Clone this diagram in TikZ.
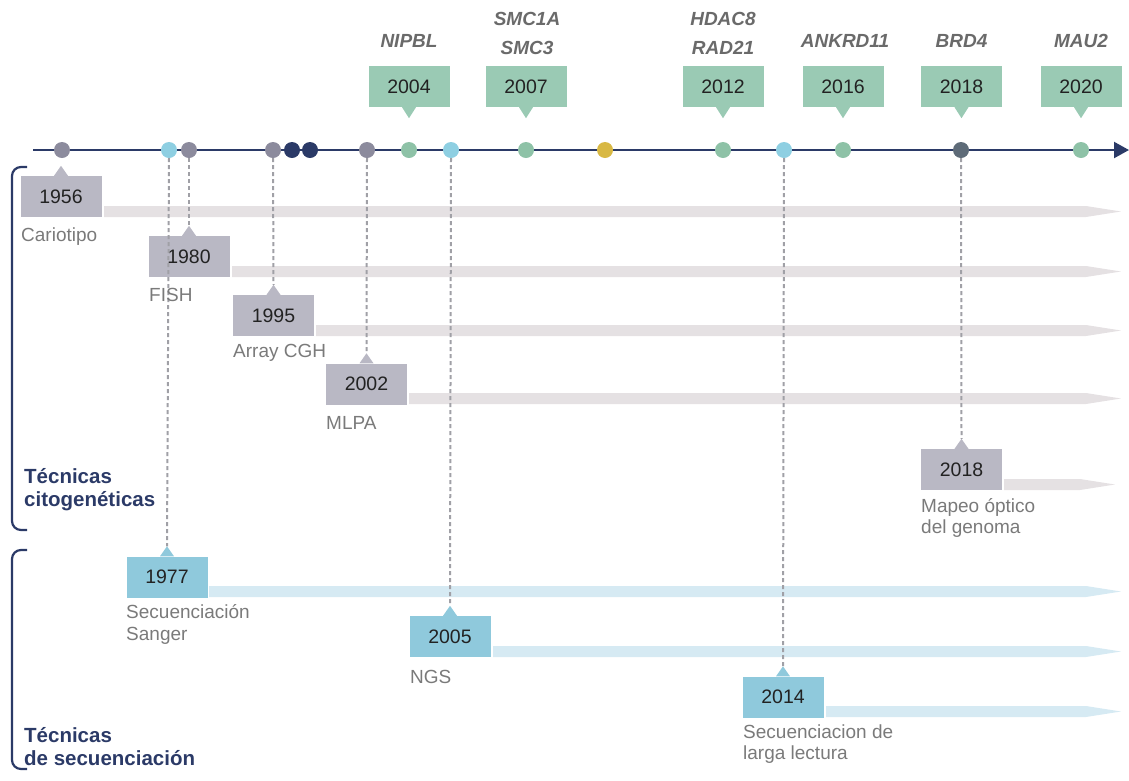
\documentclass[tikz,border=0pt]{standalone}
\usepackage{fontspec}
\setmainfont{Liberation Sans}
\usetikzlibrary{calc,arrows.meta}
\definecolor{navy}{HTML}{2B3A67}
\definecolor{gbox}{HTML}{B9B8C4}
\definecolor{gbar}{HTML}{E5E1E3}
\definecolor{bbox}{HTML}{8FC9DC}
\definecolor{bbar}{HTML}{D6EAF3}
\definecolor{grbox}{HTML}{9ACAB4}
\definecolor{grdot}{HTML}{8EC2A7}
\definecolor{bdot}{HTML}{8ECFE2}
\definecolor{gdot}{HTML}{8C8B9D}
\definecolor{ydot}{HTML}{D8B844}
\definecolor{ddot}{HTML}{5E6B78}
\definecolor{labelgray}{HTML}{7A7A7A}
\definecolor{genegray}{HTML}{6A6A6A}
\definecolor{dashgray}{HTML}{A0A0A6}
\definecolor{yeartext}{HTML}{222222}
\newcommand\upptr[2]{\fill[#2] ($(#1.north)+(-7,0)$) -- ($(#1.north)+(0,-10)$) -- ($(#1.north)+(7,0)$) -- cycle;}
\newcommand\downptr[2]{\fill[#2] ($(#1.south)+(-7,0)$) -- ($(#1.south)+(0,11)$) -- ($(#1.south)+(7,0)$) -- cycle;}
\newcommand\tlbar[5]{\fill[#5] (#1,#2) -- (#3-35,#2) -- (#3,#2/2+#4/2) -- (#3-35,#4) -- (#1,#4) -- cycle;}
\begin{document}
\begin{tikzpicture}[x=1pt,y=-1pt,
  yearbox/.style={minimum width=81pt,minimum height=41pt,inner sep=0pt,
    font=\fontsize{19.5}{22}\selectfont,text=yeartext},
  graybox/.style={yearbox,fill=gbox},
  bluebox/.style={yearbox,fill=bbox},
  greenbox/.style={yearbox,fill=grbox},
  dot/.style={circle,inner sep=0pt,minimum size=16pt},
  lbl/.style={anchor=west,inner sep=0pt,align=left,text=labelgray,
    font=\fontsize{19}{21.5}\selectfont},
  gene/.style={inner sep=0pt,align=center,text=genegray,
    font=\fontsize{19}{29}\selectfont\bfseries\itshape},
  heading/.style={anchor=west,inner sep=0pt,align=left,text=navy,
    font=\fontsize{20.5}{23}\selectfont\bfseries},
  dashline/.style={draw=dashgray,line width=2pt,dash pattern=on 4pt off 3pt},
  bracket/.style={draw=navy,line width=2.2pt,rounded corners=9pt}
]
\useasboundingbox (0,0) rectangle (1129,780);

% timeline
\coordinate (tlstart) at (33,150);
\coordinate (tlend) at (1129,150);
\draw[navy,line width=2.2pt,-{Triangle[length=15pt,width=16pt]}] (tlstart) -- (tlend);

% dots
\node[dot,fill=gdot]  (d1956) at (62,150) {};
\node[dot,fill=bdot]  (d1977) at (169,150) {};
\node[dot,fill=gdot]  (d1980) at (189,150) {};
\node[dot,fill=gdot]  (d1995) at (273,150) {};
\node[dot,fill=navy]  (dn1) at (292,150) {};
\node[dot,fill=navy]  (dn2) at (310,150) {};
\node[dot,fill=gdot]  (d2002) at (367,150) {};
\node[dot,fill=grdot] (d2004) at (409,150) {};
\node[dot,fill=bdot]  (d2005) at (451,150) {};
\node[dot,fill=grdot] (d2007) at (526,150) {};
\node[dot,fill=ydot]  (dy) at (605,150) {};
\node[dot,fill=grdot] (d2012) at (723,150) {};
\node[dot,fill=bdot]  (d2014) at (784,150) {};
\node[dot,fill=grdot] (d2016) at (843,150) {};
\node[dot,fill=ddot]  (d2018) at (961,150) {};
\node[dot,fill=grdot] (d2020) at (1081,150) {};

% green boxes (top)
\node[greenbox] (g2004) at (409,86.5) {2004};
\node[greenbox] (g2007) at (526,86.5) {2007};
\node[greenbox] (g2012) at (723,86.5) {2012};
\node[greenbox] (g2016) at (843,86.5) {2016};
\node[greenbox] (g2018) at (961.5,86.5) {2018};
\node[greenbox] (g2020) at (1081,86.5) {2020};
\foreach \n in {g2004,g2007,g2012,g2016,g2018,g2020} {\downptr{\n}{grbox}}

% gene labels
\node[gene] (nipbl) at (409,41) {NIPBL};
\node[gene] (smc) at (527,33) {SMC1A\\SMC3};
\node[gene] (hdac) at (723,33) {HDAC8\\RAD21};
\node[gene] (ankrd) at (845,41) {ANKRD11};
\node[gene] (brd4) at (961.5,41) {BRD4};
\node[gene] (mau2) at (1081,41) {MAU2};

% bars
\tlbar{104}{206}{1121}{217}{gbar}
\tlbar{232}{266}{1121}{277}{gbar}
\tlbar{316}{325}{1121}{336}{gbar}
\tlbar{409}{393}{1121}{404}{gbar}
\tlbar{1004}{479}{1115}{490}{gbar}
\tlbar{209}{586}{1121}{597}{bbar}
\tlbar{493}{646}{1121}{657}{bbar}
\tlbar{826}{706}{1121}{717}{bbar}

% gray boxes
\node[graybox] (b1956) at (61,196.5) {1956};
\node[graybox] (b1980) at (189,256.5) {1980};
\node[graybox] (b1995) at (273.5,315.5) {1995};
\node[graybox] (b2002) at (366.5,384) {2002};
\node[graybox] (b2018) at (961.5,469.5) {2018};
% blue boxes
\node[bluebox] (b1977) at (167,577) {1977};
\node[bluebox] (b2005) at (450,636.5) {2005};
\node[bluebox] (b2014) at (783,697) {2014};

\foreach \n in {b1956,b1980,b1995,b2002,b2018} {\upptr{\n}{gbox}}
\foreach \n in {b1977,b2005,b2014} {\upptr{\n}{bbox}}

% pointer tips
\foreach \n in {b1977,b1980,b1995,b2002,b2018,b2005,b2014} {\coordinate (t\n) at ($(\n.north)+(0,-10)$);}

% dashed connectors
\draw[dashline] (d1977.south) -- (tb1977);
\draw[dashline] (d1980.south) -- (tb1980);
\draw[dashline] (d1995.south) -- (tb1995);
\draw[dashline] (d2002.south) -- (tb2002);
\draw[dashline] (d2005.south) -- (tb2005);
\draw[dashline] (d2014.south) -- (tb2014);
\draw[dashline] (d2018.south) -- (tb2018);

% labels
\node[lbl] (lcar) at (21,237) {Cariotipo};
\node[lbl] (lfish) at (149,295) {FISH};
\node[lbl] (lcgh) at (233,353) {Array CGH};
\node[lbl] (lmlpa) at (326,423) {MLPA};
\node[lbl] (lmap) at (921,518) {Mapeo óptico\\del genoma};
\node[lbl] (lsang) at (126,624.5) {Secuenciación\\Sanger};
\node[lbl] (lngs) at (410,677) {NGS};
\node[lbl] (llarga) at (743,744) {Secuenciacion de\\larga lectura};

% headings
\node[heading] (hcit) at (24,490) {Técnicas\\citogenéticas};
\node[heading] (hsec) at (24,746.5) {Técnicas\\de secuenciación};

% brackets
\draw[bracket] (27,167) -- (12,167) -- (12,530) -- (27,530);
\draw[bracket] (27,550) -- (12,550) -- (12,769) -- (27,769);
\end{tikzpicture}
\end{document}
